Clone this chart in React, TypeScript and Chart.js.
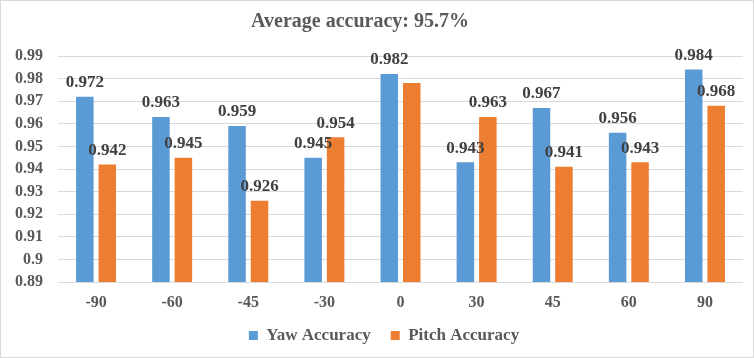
import React, { useEffect, useRef } from "react";
import { Chart, registerables } from "chart.js";

Chart.register(...registerables);

const categories = ["-90", "-60", "-45", "-30", "0", "30", "45", "60", "90"];
const yawAccuracy = [0.972, 0.963, 0.959, 0.945, 0.982, 0.943, 0.967, 0.956, 0.984];
const pitchAccuracy = [0.942, 0.945, 0.926, 0.954, 0.978, 0.963, 0.941, 0.943, 0.968];
const yawLabelShown = [true, true, true, true, true, true, true, true, true];
const pitchLabelShown = [true, true, true, true, false, true, true, true, true];
const yTicks = [0.89, 0.9, 0.91, 0.92, 0.93, 0.94, 0.95, 0.96, 0.97, 0.98, 0.99];
const titleText = "Average accuracy: 95.7%";

const SERIF = "'Liberation Serif', 'Times New Roman', serif";
const BLUE = "#5B9BD5";
const ORANGE = "#ED7D31";
const AXIS_TEXT = "#595959";
const LABEL_TEXT = "#404040";
const GRID = "#D9D9D9";

const frameAndTitle = {
  id: "frameAndTitle",
  beforeDraw(chart: any) {
    const { ctx, width, height } = chart;
    ctx.save();
    ctx.fillStyle = "#ffffff";
    ctx.fillRect(0, 0, width, height);
    ctx.strokeStyle = GRID;
    ctx.lineWidth = 1;
    ctx.strokeRect(0.5, 0.5, width - 1, height - 1);
    ctx.restore();
  },
  afterDraw(chart: any) {
    const { ctx } = chart;
    ctx.save();
    ctx.font = `bold 20px ${SERIF}`;
    ctx.fillStyle = AXIS_TEXT;
    ctx.textAlign = "center";
    ctx.textBaseline = "middle";
    ctx.fillText(titleText, 360, 22);
    ctx.restore();
  },
};

const valueLabels = {
  id: "valueLabels",
  afterDatasetsDraw(chart: any) {
    const { ctx } = chart;
    const shown = [yawLabelShown, pitchLabelShown];
    ctx.save();
    ctx.font = `bold 17px ${SERIF}`;
    ctx.fillStyle = LABEL_TEXT;
    ctx.textAlign = "center";
    ctx.textBaseline = "middle";
    chart.data.datasets.forEach((ds: any, di: number) => {
      const meta = chart.getDatasetMeta(di);
      meta.data.forEach((el: any, i: number) => {
        if (!shown[di][i]) return;
        const v = ds.data[i] as number;
        ctx.fillText(v.toFixed(3), el.x, el.y - 14);
      });
    });
    ctx.restore();
  },
};

const noLabelClip = (scale: any) => {
  scale._computeLabelArea = () => undefined;
};

export default function App() {
  const ref = useRef<HTMLCanvasElement>(null);

  useEffect(() => {
    if (!ref.current) return;
    const chart = new Chart(ref.current, {
      type: "bar",
      data: {
        labels: categories,
        datasets: [
          {
            label: "Yaw Accuracy",
            data: yawAccuracy,
            backgroundColor: BLUE,
            borderWidth: 0,
            barPercentage: 0.78,
            categoryPercentage: 0.59,
          },
          {
            label: "Pitch Accuracy",
            data: pitchAccuracy,
            backgroundColor: ORANGE,
            borderWidth: 0,
            barPercentage: 0.78,
            categoryPercentage: 0.59,
          },
        ],
      },
      options: {
        responsive: false,
        animation: false,
        devicePixelRatio: 1,
        layout: { padding: { top: 56, left: 25, right: 11, bottom: 4 } },
        scales: {
          x: {
            grid: { display: false },
            border: { display: false },
            ticks: {
              color: AXIS_TEXT,
              font: { family: SERIF, size: 16, weight: "bold" },
              padding: 3,
            },
            afterFit(scale: any) {
              scale.height = 25;
              noLabelClip(scale);
            },
          },
          y: {
            min: 0.89,
            max: 0.99,
            grid: { color: GRID, lineWidth: 1, drawTicks: false },
            border: { display: false },
            ticks: {
              color: AXIS_TEXT,
              font: { family: SERIF, size: 16, weight: "bold" },
              padding: 15,
              callback: (v: any) => String(Number(Number(v).toFixed(2))),
            },
            afterBuildTicks(scale: any) {
              scale.ticks = yTicks.map((v) => ({ value: v }));
            },
            afterFit(scale: any) {
              scale.width = 33;
              noLabelClip(scale);
            },
          },
        },
        plugins: {
          title: { display: false },
          tooltip: { enabled: false },
          legend: {
            position: "bottom",
            labels: {
              usePointStyle: true,
              pointStyle: "rect",
              boxWidth: 9,
              boxHeight: 9,
              padding: 20,
              color: AXIS_TEXT,
              font: { family: SERIF, size: 17, weight: "bold" },
            },
          },
        },
      },
      plugins: [frameAndTitle, valueLabels],
    } as any);
    return () => chart.destroy();
  }, []);

  return (
    <div style={{ position: "absolute", left: 0, top: 0, width: 754, height: 358 }}>
      <canvas ref={ref} width={754} height={358} />
    </div>
  );
}
